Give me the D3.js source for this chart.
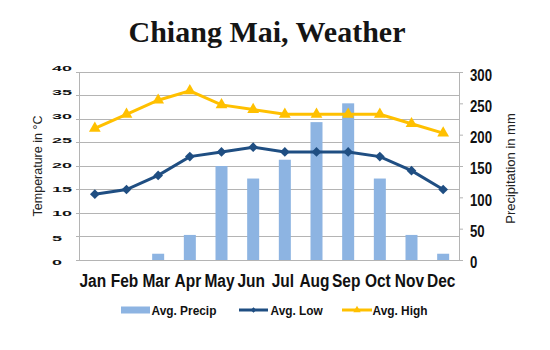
<!DOCTYPE html>
<html><head><meta charset="utf-8">
<script src="https://cdn.jsdelivr.net/npm/d3@7"></script>
<style>body{margin:0;background:#fff}svg{display:block}</style>
</head><body>
<script>
const months = ["Jan","Feb","Mar","Apr","May","Jun","Jul","Aug","Sep","Oct","Nov","Dec"];
const avgPrecip = [0,0,10,40,150,130,160,220,250,130,40,10];
const avgLow = [14,15,18,22,23,24,23,23,23,22,19,15];
const avgHigh = [28,31,34,36,33,32,31,31,31,31,29,27];
const tempTicks = [0,5,10,15,20,25,30,35,40];
const precipTicks = [0,50,100,150,200,250,300];

const W=550,H=350;
const svg=d3.select("body").append("svg").attr("width",W).attr("height",H);
const L=79,R=459,T=72,B=260;
const x=d3.scaleBand().domain(months).range([L,R]);
const yT=d3.scaleLinear().domain([0,40]).range([B,T]);
const yP=d3.scaleLinear().domain([0,300]).range([B,T]);
const yTlab=d3.scaleLinear().domain([0,40]).range([262.3,67.7]);
const yPlab=d3.scaleLinear().domain([0,300]).range([261.7,75.3]);

function condense(sel,f){
  sel.each(function(){
    const w=this.getComputedTextLength();
    d3.select(this).attr("textLength",w*f).attr("lengthAdjust","spacingAndGlyphs");
  });
}

// title
svg.append("text").attr("x",267).attr("y",42).attr("text-anchor","middle")
  .style("font-family","'Liberation Serif','DejaVu Serif',serif").style("font-weight","bold")
  .style("font-size","30px").attr("fill","#151515").text("Chiang Mai, Weather");

// gridlines
svg.append("g").selectAll("line").data(tempTicks).join("line")
  .attr("x1",L-3).attr("x2",R).attr("y1",d=>yT(d)).attr("y2",d=>yT(d))
  .attr("stroke","#b4b4b4").attr("stroke-width",1).attr("shape-rendering","crispEdges");
// left axis line
svg.append("line").attr("x1",L).attr("x2",L).attr("y1",T).attr("y2",B)
  .attr("stroke","#b4b4b4").attr("shape-rendering","crispEdges");
// right axis
const ra=svg.append("g").attr("transform",`translate(${R},0)`)
  .call(d3.axisRight(yP).tickValues(precipTicks).tickSize(4).tickFormat(""));
ra.select(".domain").attr("stroke","#b4b4b4");
ra.selectAll(".tick line").attr("stroke","#b4b4b4");

// left tick labels (wide)
svg.append("g").selectAll("text").data(tempTicks).join("text")
  .attr("x",52).attr("y",d=>yTlab(d)).attr("dy","0.35em")
  .attr("textLength",d=>String(d).length*10).attr("lengthAdjust","spacingAndGlyphs")
  .style("font-family","'Liberation Sans',Arial,sans-serif").style("font-weight","bold")
  .style("font-size","8px").attr("fill","#111").text(d=>d);

// right tick labels
svg.append("g").selectAll("text").data(precipTicks).join("text")
  .attr("x",470).attr("y",d=>yPlab(d)).attr("dy","0.36em")
  .style("font-family","'Liberation Sans',Arial,sans-serif").style("font-weight","bold")
  .style("font-size","16.5px").attr("fill","#111").text(d=>d)
  .call(condense,0.8);

// axis titles
svg.append("text").attr("transform","translate(42,166) rotate(-90)").attr("text-anchor","middle")
  .style("font-family","'Liberation Sans',Arial,sans-serif").style("font-size","12.5px").attr("fill","#222")
  .text("Temperature in °C");
svg.append("text").attr("transform","translate(515,168.5) rotate(-90)").attr("text-anchor","middle")
  .style("font-family","'Liberation Sans',Arial,sans-serif").style("font-size","13px").attr("fill","#222")
  .text("Precipitation in mm");

// bars
const bw=12;
svg.append("g").selectAll("rect").data(avgPrecip).join("rect")
  .attr("x",(d,i)=>x(months[i])+x.bandwidth()/2-bw/2).attr("width",bw)
  .attr("y",d=>yP(d)).attr("height",d=>B-yP(d)).attr("fill","#8db4e2");

// bottom axis line
svg.append("line").attr("x1",L).attr("x2",R).attr("y1",B).attr("y2",B)
  .attr("stroke","#b4b4b4").attr("shape-rendering","crispEdges");

const cx=i=>x(months[i])+x.bandwidth()/2;
const lowC="#1f4e82", highC="#ffc000";
const line=(arr)=>d3.line().x((d,i)=>cx(i)).y(d=>yT(d))(arr);
svg.append("path").attr("d",line(avgLow)).attr("fill","none").attr("stroke",lowC).attr("stroke-width",3);
svg.append("g").selectAll("path").data(avgLow).join("path")
  .attr("transform",(d,i)=>`translate(${cx(i)},${yT(d)})`)
  .attr("d",d3.symbol(d3.symbolDiamond2,60)).attr("fill",lowC);
svg.append("path").attr("d",line(avgHigh)).attr("fill","none").attr("stroke",highC).attr("stroke-width",3);
svg.append("g").selectAll("path").data(avgHigh).join("path")
  .attr("transform",(d,i)=>`translate(${cx(i)},${yT(d)})`)
  .attr("d",d3.symbol(d3.symbolTriangle,60)).attr("fill",highC);

// month labels
svg.append("g").selectAll("text").data(months).join("text")
  .attr("x",(d,i)=>cx(i)-2).attr("y",286.5).attr("text-anchor","middle")
  .style("font-family","'Liberation Sans',Arial,sans-serif").style("font-weight","bold")
  .style("font-size","18px").attr("fill","#111").text(d=>d)
  .call(condense,0.86);

// legend
const lg=svg.append("g");
const ly=310;
lg.append("rect").attr("x",121).attr("y",ly-3.5).attr("width",29).attr("height",7).attr("fill","#8db4e2");
lg.append("line").attr("x1",239).attr("x2",268).attr("y1",ly).attr("y2",ly).attr("stroke",lowC).attr("stroke-width",3);
lg.append("path").attr("transform",`translate(253.5,${ly})`).attr("d",d3.symbol(d3.symbolDiamond2,20)).attr("fill",lowC);
lg.append("line").attr("x1",342).attr("x2",372).attr("y1",ly).attr("y2",ly).attr("stroke",highC).attr("stroke-width",3);
lg.append("path").attr("transform",`translate(357,${ly})`).attr("d",d3.symbol(d3.symbolTriangle,24)).attr("fill",highC);
const legItems=[["Avg. Precip",151.5],["Avg. Low",270.5],["Avg. High",372.5]];
lg.selectAll("text.l").data(legItems).join("text").attr("class","l")
  .attr("x",d=>d[1]).attr("y",314.5)
  .style("font-family","'Liberation Sans',Arial,sans-serif").style("font-weight","bold")
  .style("font-size","13.5px").attr("fill","#111").text(d=>d[0])
  .call(condense,0.88);
</script>
</body></html>
